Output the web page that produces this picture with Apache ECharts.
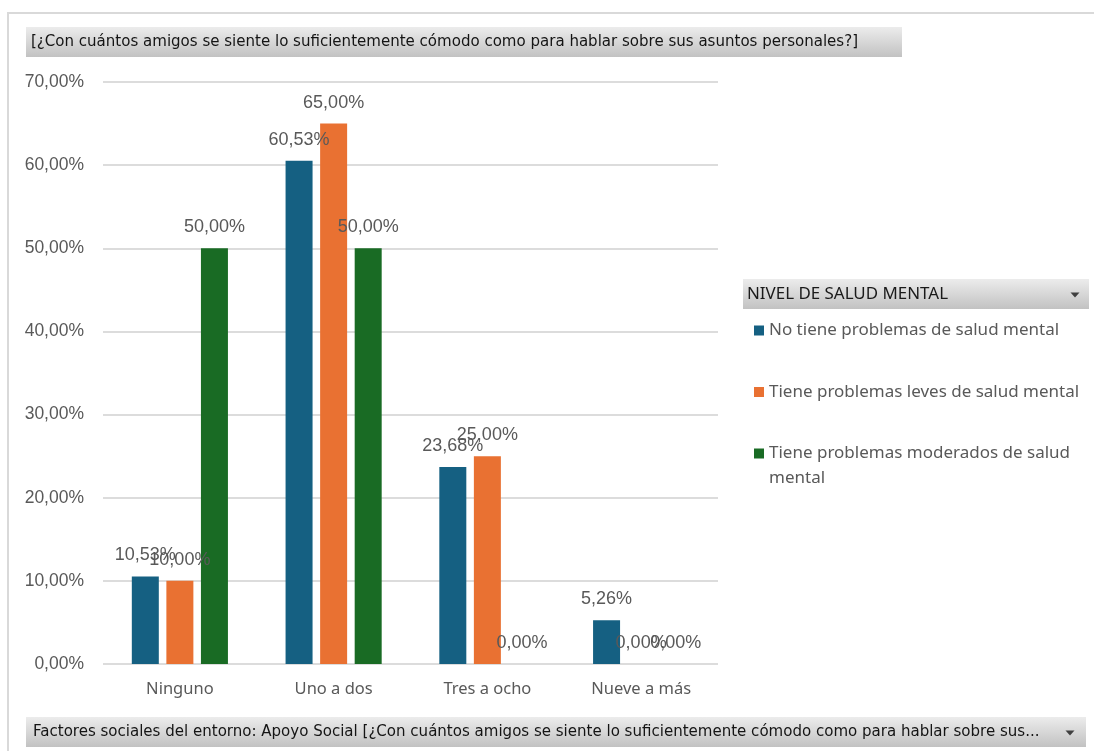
<!DOCTYPE html>
<html>
<head>
<meta charset="utf-8">
<script src="https://cdn.jsdelivr.net/npm/echarts@6/dist/echarts.min.js"></script>
<style>
  html, body { margin: 0; padding: 0; background: #ffffff; }
  #chart { width: 1094px; height: 751px; }
</style>
</head>
<body>
<div id="chart"></div>
<script>
// Categories (number of close friends) and the share of each mental-health group
const categories = ['Ninguno', 'Uno a dos', 'Tres a ocho', 'Nueve a más'];
const seriesNames = [
  'No tiene problemas de salud mental',
  'Tiene problemas leves de salud mental',
  'Tiene problemas moderados de salud mental'
];
const sinProblemas = [10.53, 60.53, 23.68, 5.26];
const problemasLeves = [10.00, 65.00, 25.00, 0.00];
const problemasModerados = [50.00, 50.00, 0.00, 0.00];
const yTicks = [0, 10, 20, 30, 40, 50, 60, 70];

const titleText = '[¿Con cuántos amigos se siente lo suficientemente cómodo como para hablar sobre sus asuntos personales?]';
const axisFieldText = 'Factores sociales del entorno: Apoyo Social [¿Con cuántos amigos se siente lo suficientemente cómodo como para hablar sobre sus...';
const legendTitle = 'NIVEL DE SALUD MENTAL';

const colors = ['#156082', '#E97132', '#196B24'];
const pct = v => Number(v).toFixed(2).replace('.', ',') + '%';

// horizontal squeeze so the button captions occupy their narrow pivot-field width
const measureCtx = document.createElement('canvas').getContext('2d');
function fitScale(text, font, width) {
  measureCtx.font = font;
  return width / measureCtx.measureText(text).width;
}
const buttonFont = '16px "DejaVu Sans"';
const buttonScale = fitScale(titleText, buttonFont, 827);
const headerFont = '16px "Noto Sans"';
const headerScale = fitScale(legendTitle, headerFont, 201);

const labelFont = '"Liberation Sans", Arial, sans-serif';
const textFont = '"Noto Sans", sans-serif';

function buttonGradient() {
  return new echarts.graphic.LinearGradient(0, 0, 0, 1, [
    { offset: 0, color: '#ececec' },
    { offset: 1, color: '#c2c2c2' }
  ]);
}
function arrow(cx, cy) {
  return {
    type: 'polygon',
    shape: { points: [[cx - 4.5, cy - 2.5], [cx + 4.5, cy - 2.5], [cx, cy + 2.5]] },
    style: { fill: '#404040' }
  };
}

// legend entry text; the long one wraps, with a blank first line so the
// marker stays level with the first visible line
function legendLabel(name) {
  return name === seriesNames[2] ? '\nTiene problemas moderados de salud\nmental' : name;
}

const chart = echarts.init(document.getElementById('chart'), null, { renderer: 'canvas' });

const values = [sinProblemas, problemasLeves, problemasModerados];

chart.setOption({
  animation: false,
  backgroundColor: '#ffffff',
  color: colors,
  grid: { left: 103, right: 376, top: 82, bottom: 87, containLabel: false },
  xAxis: {
    type: 'category',
    data: categories,
    axisLine: { show: false },
    axisTick: { show: false },
    axisLabel: { color: '#595959', fontSize: 16.5, fontFamily: textFont, margin: 17 }
  },
  yAxis: {
    type: 'value',
    min: yTicks[0],
    max: yTicks[yTicks.length - 1],
    interval: yTicks[1] - yTicks[0],
    axisLine: { show: false },
    axisTick: { show: false },
    axisLabel: { color: '#595959', fontSize: 17.5, fontFamily: labelFont, margin: 19, formatter: pct },
    splitLine: { lineStyle: { color: '#dcdcdc', width: 2 } }
  },
  legend: [0, 1, 2].map(i => ({
    data: [seriesNames[i]],
    orient: 'vertical',
    left: 754,
    top: [318, 379.5, 416][i],
    padding: 0,
    itemWidth: 10,
    itemHeight: 10,
    icon: 'rect',
    selectedMode: false,
    formatter: legendLabel,
    textStyle: { color: '#595959', fontSize: 17, fontFamily: textFont, lineHeight: 25 }
  })),
  series: values.map((data, i) => ({
    name: seriesNames[i],
    type: 'bar',
    data: data,
    barWidth: 27,
    barGap: '28%',
    itemStyle: { color: colors[i] },
    label: {
      show: true,
      position: 'top',
      distance: 12,
      color: '#595959',
      fontSize: 18,
      fontFamily: labelFont,
      formatter: p => pct(p.value)
    }
  })),
  graphic: [
    // outer frame of the chart area
    { type: 'rect', shape: { x: 8, y: 13, width: 1100, height: 800 }, style: { fill: 'none', stroke: '#d9d9d9', lineWidth: 2 }, silent: true },
    // report filter / title button
    { type: 'rect', shape: { x: 26, y: 27, width: 876, height: 30 }, style: { fill: buttonGradient() } },
    { type: 'text', x: 31, y: 42, scaleX: buttonScale, style: { text: titleText, font: buttonFont, fill: '#141414', verticalAlign: 'middle' } },
    // axis field button
    { type: 'rect', shape: { x: 26, y: 717, width: 1060, height: 30 }, style: { fill: buttonGradient() } },
    { type: 'text', x: 33, y: 732, scaleX: buttonScale, style: { text: axisFieldText, font: buttonFont, fill: '#141414', verticalAlign: 'middle' } },
    arrow(1070, 733),
    // legend field button
    { type: 'rect', shape: { x: 743, y: 279, width: 346, height: 30 }, style: { fill: buttonGradient() } },
    { type: 'text', x: 747, y: 294, scaleX: headerScale, style: { text: legendTitle, font: headerFont, fill: '#1a1a1a', verticalAlign: 'middle' } },
    arrow(1075, 295)
  ]
});
</script>
</body>
</html>
